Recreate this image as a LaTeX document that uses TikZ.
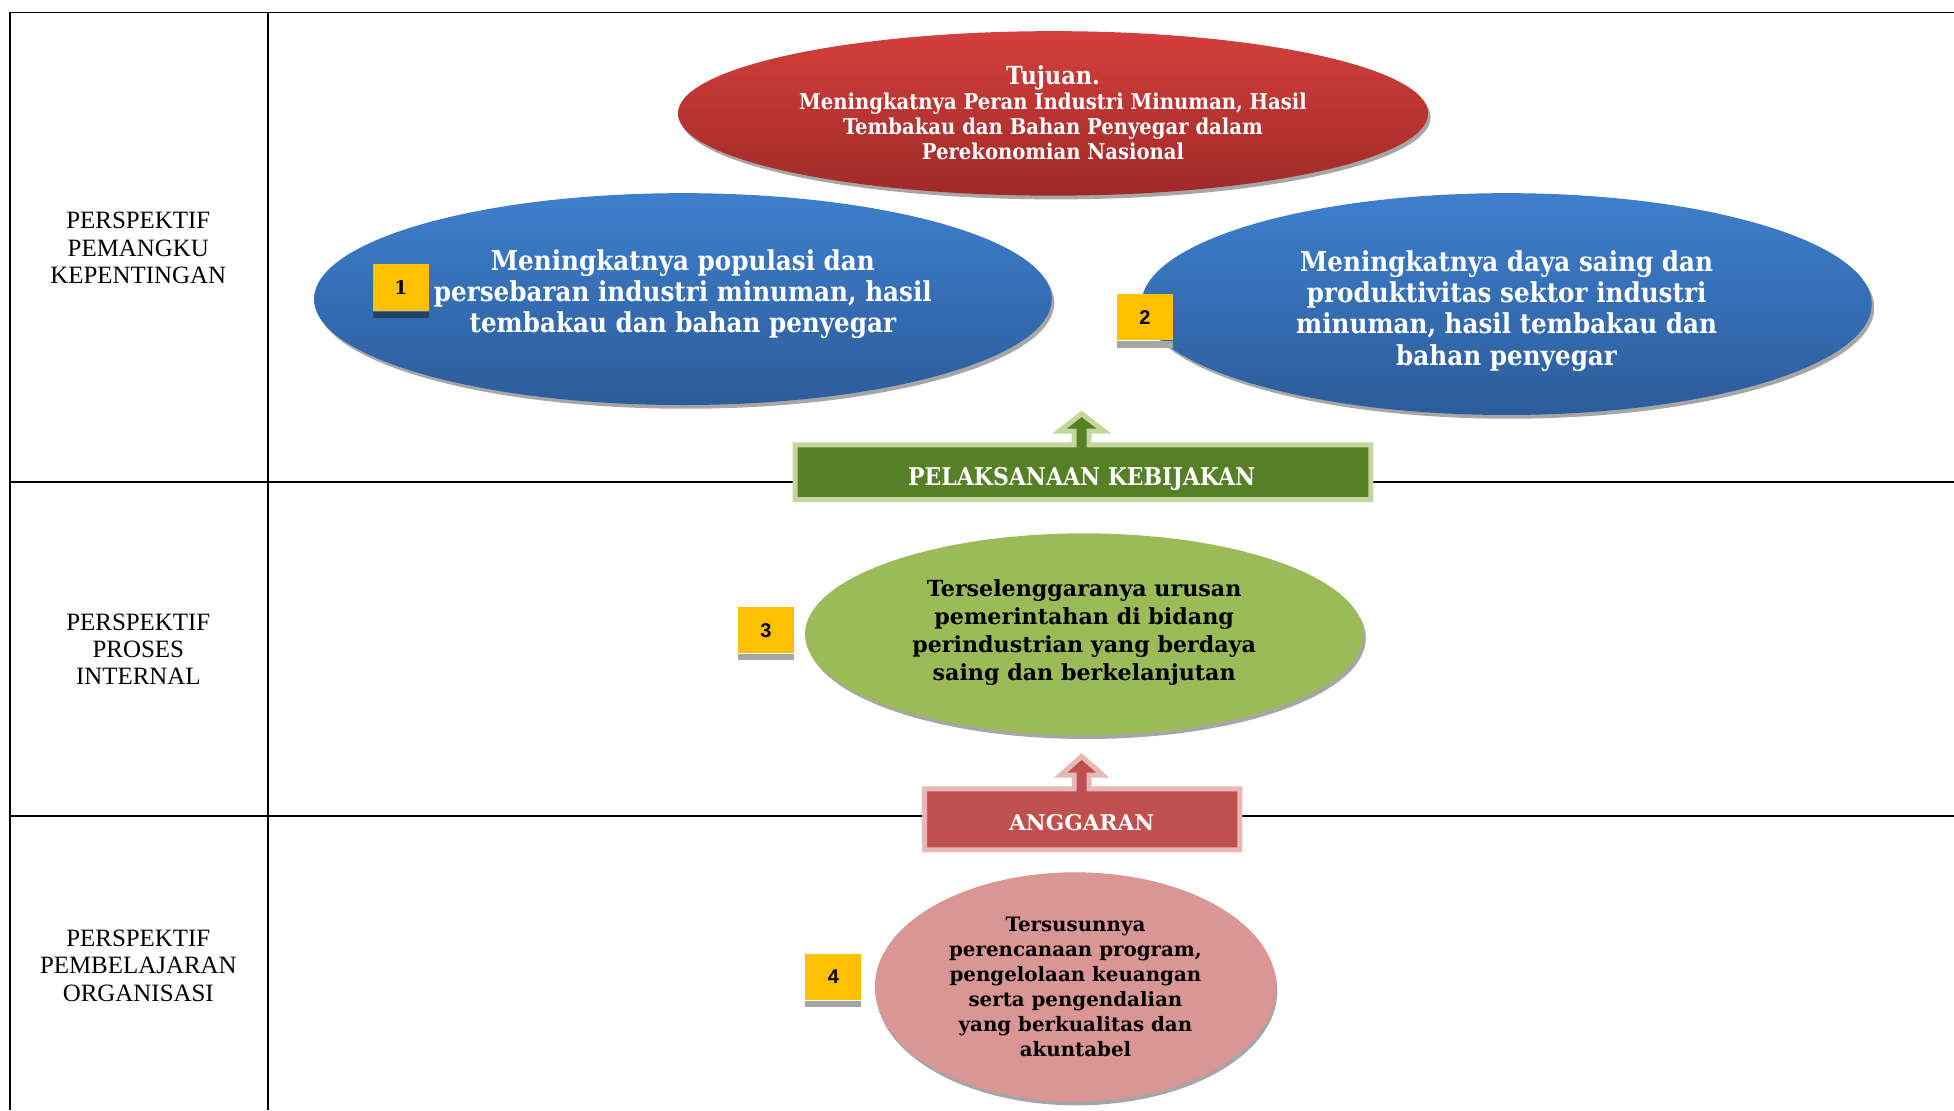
\documentclass[tikz,border=0pt]{standalone}
\usepackage{fontspec}
\setmainfont{Liberation Serif}
\newfontfamily\slab{DejaVu Serif}
\newfontfamily\slabc{DejaVu Serif Condensed}
\newfontfamily\arialf{Liberation Sans}
\usetikzlibrary{shapes.geometric}
\definecolor{redT}{HTML}{D33F3C}
\definecolor{redB}{HTML}{9F2A28}
\definecolor{blueT}{HTML}{3E7FCD}
\definecolor{blueB}{HTML}{2C5C9A}
\definecolor{greenE}{HTML}{9BBB59}
\definecolor{pinkE}{HTML}{D99694}
\definecolor{pkFill}{HTML}{558026}
\definecolor{pkBorder}{HTML}{C3D69B}
\definecolor{agFill}{HTML}{C0504D}
\definecolor{agBorder}{HTML}{E6B9B8}
\definecolor{numY}{HTML}{FFC000}
\definecolor{shadowG}{HTML}{A6A6A6}
\definecolor{navyS}{HTML}{22416B}
\tikzset{
  ell/.style={ellipse, inner sep=0pt, draw=none},
  shad/.style={fill=shadowG},
  gridline/.style={line width=1.5pt, black},
  perslabel/.style={align=center, font=\fontsize{20}{22}\selectfont},
  numbox/.style={rectangle, fill=numY, minimum width=45pt, minimum height=37pt, inner sep=0pt},
  wtext/.style={align=center, text=white},
  btext/.style={align=center, text=black},
}
\begin{document}
\begin{tikzpicture}[x=1pt,y=-1pt]
\useasboundingbox (0,0) rectangle (1568,891);
% table
\draw[gridline] (8,10) -- (1568,10);
\draw[gridline] (8,10) -- (8,891);
\draw[gridline] (215,10) -- (215,891);
\draw[gridline] (8,387) -- (1568,387);
\draw[gridline] (8,655) -- (1568,655);
\node[perslabel] (p1) at (111,199) {PERSPEKTIF\\PEMANGKU\\KEPENTINGAN};
\node[perslabel] (p2) at (111,521) {PERSPEKTIF\\PROSES\\INTERNAL};
\node[perslabel] (p3) at (111,775) {PERSPEKTIF\\PEMBELAJARAN\\ORGANISASI};
% shadows
\fill[shad] (847,94) ellipse [x radius=301, y radius=66];
\fill[shad] (550,243) ellipse [x radius=296, y radius=85];
\fill[shad] (1211,247) ellipse [x radius=293, y radius=89];
\fill[shad] (872,512) ellipse [x radius=224, y radius=81];
\fill[shad] (864,795) ellipse [x radius=161, y radius=92];
% ellipses
\node[ell, top color=redT, bottom color=redB, minimum width=602pt, minimum height=132pt] (goal) at (845,91) {};
\node[ell, top color=blueT, bottom color=blueB, minimum width=592pt, minimum height=170pt] (s1) at (548,240) {};
\node[ell, top color=blueT, bottom color=blueB, minimum width=586pt, minimum height=178pt] (s2) at (1209,244) {};
\node[ell, fill=greenE, minimum width=448pt, minimum height=162pt] (s3) at (870,509) {};
\node[ell, fill=pinkE, minimum width=322pt, minimum height=184pt] (s4) at (863,792) {};
% texts
\node[wtext, font=\slabc\bfseries\fontsize{17.5}{20}\selectfont] (tg) at (845,90.5) {{\fontsize{20}{20}\selectfont Tujuan.}\\Meningkatnya Peran Industri Minuman, Hasil\\Tembakau dan Bahan Penyegar dalam\\Perekonomian Nasional};
\node[wtext, font=\slabc\bfseries\fontsize{22}{25}\selectfont] (t1) at (548,236) {Meningkatnya populasi dan\\persebaran industri minuman, hasil\\tembakau dan bahan penyegar};
\node[wtext, font=\slabc\bfseries\fontsize{22}{25}\selectfont] (t2) at (1209,249.5) {Meningkatnya daya saing dan\\produktivitas sektor industri\\minuman, hasil tembakau dan\\bahan penyegar};
\node[btext, font=\slab\bfseries\fontsize{17.8}{22.5}\selectfont] (t3) at (870,507.5) {Terselenggaranya urusan\\pemerintahan di bidang\\perindustrian yang berdaya\\saing dan berkelanjutan};
\node[btext, font=\slab\bfseries\fontsize{15.9}{20}\selectfont] (t4) at (863,792) {Tersusunnya\\perencanaan program,\\pengelolaan keuangan\\serta pengendalian\\yang berkualitas dan\\akuntabel};
% PELAKSANAAN KEBIJAKAN box with arrow
\filldraw[fill=pkFill, draw=pkBorder, line width=4pt, line join=miter]
  (638,357) -- (862,357) -- (862,346) -- (850,346) -- (868,332) -- (886,346) -- (874,346) -- (874,357)
  -- (1100,357) -- (1100,401) -- (638,401) -- cycle;
\node[wtext, font=\slabc\bfseries\fontsize{19.6}{20}\selectfont] (pk) at (868,384.5) {PELAKSANAAN KEBIJAKAN};
% ANGGARAN box with arrow
\filldraw[fill=agFill, draw=agBorder, line width=4pt, line join=miter]
  (742,633) -- (862,633) -- (862,622) -- (851,622) -- (868,607) -- (885,622) -- (874,622) -- (874,633)
  -- (995,633) -- (995,682) -- (742,682) -- cycle;
\node[wtext, font=\slab\bfseries\fontsize{17.4}{20}\selectfont] (ag) at (868,660) {ANGGARAN};
% number boxes
\fill[navyS] (299,250) rectangle (344,255);
\node[numbox, anchor=north west, font=\slab\bfseries\fontsize{15}{18}\selectfont] (n1) at (299,212) {1};
\fill[shadowG] (896,274) rectangle (941,279);
\node[numbox, anchor=north west, font=\arialf\bfseries\fontsize{16}{18}\selectfont] (n2) at (896,236) {2};
\fill[shadowG] (592,525) rectangle (637,530);
\node[numbox, anchor=north west, font=\arialf\bfseries\fontsize{16}{18}\selectfont] (n3) at (592,487) {3};
\fill[shadowG] (646,803) rectangle (691,808);
\node[numbox, anchor=north west, font=\arialf\bfseries\fontsize{16}{18}\selectfont] (n4) at (646,765) {4};
\end{tikzpicture}
\end{document}
